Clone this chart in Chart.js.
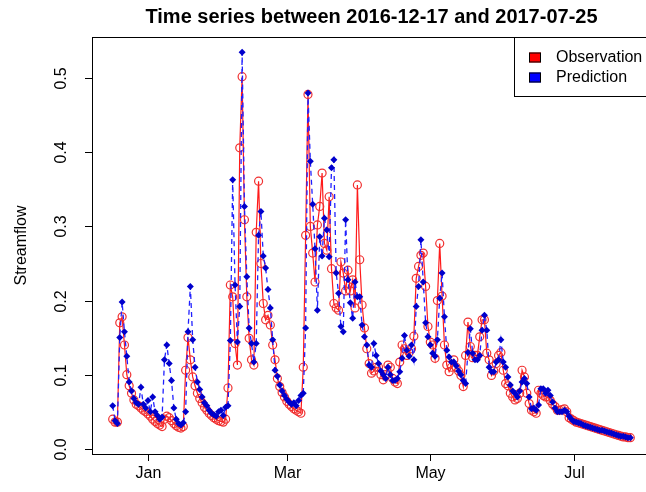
<!DOCTYPE html>
<html>
<head>
<meta charset="utf-8">
<script src="https://cdn.jsdelivr.net/npm/chart.js@4"></script>
<style>
  html, body { margin: 0; padding: 0; background: #fff; overflow: hidden; }
  canvas { display: block; }
</style>
</head>
<body>
<canvas id="myChart" width="660" height="492"></canvas>
<script>
// day 0 = 2016-12-17, one value per day up to 2017-07-25
const titleText = 'Time series between 2016-12-17 and 2017-07-25';
const monthTicks = [15, 74, 135, 196];
const monthLabels = ['Jan', 'Mar', 'May', 'Jul'];
const yTicks = [0, 0.1, 0.2, 0.3, 0.4, 0.5];

const observation = [
  0.040, 0.036, 0.036, 0.170, 0.178, 0.140, 0.100, 0.085, 0.075, 0.066,
  0.060, 0.058, 0.055, 0.052, 0.050, 0.047, 0.044, 0.040, 0.037, 0.034,
  0.032, 0.030, 0.040, 0.044, 0.042, 0.038, 0.034, 0.031, 0.029, 0.028,
  0.030, 0.106, 0.150, 0.120, 0.097, 0.085, 0.075, 0.068, 0.062, 0.056,
  0.052, 0.048, 0.045, 0.042, 0.040, 0.038, 0.037, 0.036, 0.040, 0.082,
  0.221, 0.205, 0.142, 0.113, 0.406, 0.502, 0.309, 0.205, 0.149, 0.120,
  0.113, 0.292, 0.361, 0.250, 0.196, 0.174, 0.180, 0.167, 0.140, 0.120,
  0.095, 0.084, 0.076, 0.070, 0.064, 0.060, 0.057, 0.054, 0.052, 0.050,
  0.048, 0.110, 0.288, 0.478, 0.300, 0.264, 0.225, 0.302, 0.327, 0.372,
  0.277, 0.268, 0.340, 0.243, 0.196, 0.190, 0.187, 0.252, 0.237, 0.213,
  0.241, 0.213, 0.228, 0.190, 0.356, 0.255, 0.194, 0.163, 0.135, 0.115,
  0.102, 0.105, 0.110, 0.110, 0.100, 0.093, 0.100, 0.113, 0.110, 0.095,
  0.090, 0.088, 0.117, 0.140, 0.135, 0.126, 0.130, 0.135, 0.152, 0.230,
  0.246, 0.261, 0.264, 0.219, 0.165, 0.144, 0.140, 0.122, 0.200, 0.277,
  0.206, 0.140, 0.113, 0.104, 0.110, 0.120, 0.110, 0.105, 0.099, 0.084,
  0.126, 0.171, 0.138, 0.123, 0.126, 0.126, 0.151, 0.174, 0.174, 0.129,
  0.120, 0.099, 0.105, 0.115, 0.126, 0.130, 0.106, 0.088, 0.085, 0.075,
  0.070, 0.066, 0.068, 0.075, 0.106, 0.097, 0.075, 0.061, 0.052, 0.050,
  0.048, 0.079, 0.075, 0.072, 0.070, 0.070, 0.065, 0.060, 0.057, 0.052,
  0.052, 0.053, 0.054, 0.050, 0.042, 0.040, 0.038, 0.036, 0.035, 0.034,
  0.033, 0.032, 0.031, 0.030, 0.029, 0.028, 0.027, 0.026, 0.025, 0.024,
  0.023, 0.022, 0.021, 0.020, 0.019, 0.018, 0.017, 0.016, 0.016, 0.015,
  0.015
];

const prediction = [
  0.058, 0.038, 0.034, 0.150, 0.198, 0.158, 0.125, 0.090, 0.078, 0.068,
  0.062, 0.060, 0.083, 0.060, 0.055, 0.065, 0.050, 0.070, 0.050, 0.045,
  0.040, 0.043, 0.120, 0.140, 0.115, 0.092, 0.055, 0.040, 0.034, 0.032,
  0.035, 0.050, 0.158, 0.219, 0.147, 0.110, 0.090, 0.080, 0.070, 0.062,
  0.058, 0.052, 0.048, 0.046, 0.044, 0.050, 0.052, 0.045, 0.056, 0.058,
  0.146, 0.363, 0.221, 0.144, 0.192, 0.535, 0.327, 0.232, 0.163, 0.142,
  0.117, 0.142, 0.288, 0.320, 0.260, 0.244, 0.215, 0.190, 0.147, 0.106,
  0.098, 0.086, 0.078, 0.072, 0.067, 0.063, 0.060, 0.062, 0.058, 0.065,
  0.072, 0.075, 0.163, 0.480, 0.388, 0.330, 0.270, 0.187, 0.286, 0.260,
  0.311, 0.295, 0.259, 0.379, 0.390, 0.237, 0.210, 0.165, 0.158, 0.309,
  0.228, 0.197, 0.176, 0.225, 0.205, 0.205, 0.167, 0.151, 0.140, 0.113,
  0.110, 0.142, 0.126, 0.115, 0.105, 0.100, 0.095, 0.110, 0.100, 0.092,
  0.092, 0.095, 0.104, 0.122, 0.153, 0.133, 0.125, 0.140, 0.120, 0.192,
  0.219, 0.282, 0.225, 0.170, 0.151, 0.140, 0.129, 0.125, 0.147, 0.203,
  0.237, 0.178, 0.133, 0.124, 0.117, 0.117, 0.112, 0.105, 0.100, 0.092,
  0.088, 0.130, 0.162, 0.129, 0.120, 0.120, 0.126, 0.160, 0.180, 0.160,
  0.110, 0.104, 0.104, 0.117, 0.120, 0.147, 0.117, 0.110, 0.097, 0.086,
  0.078, 0.075, 0.070, 0.078, 0.090, 0.095, 0.088, 0.070, 0.054, 0.055,
  0.052, 0.059, 0.081, 0.081, 0.075, 0.079, 0.072, 0.063, 0.055, 0.050,
  0.050, 0.050, 0.052, 0.050, 0.044, 0.040, 0.037, 0.036, 0.035, 0.034,
  0.032, 0.031, 0.030, 0.029, 0.028, 0.027, 0.026, 0.025, 0.025, 0.024,
  0.023, 0.022, 0.021, 0.020, 0.019, 0.018, 0.017, 0.017, 0.016, 0.015,
  0.015
];

const FONT = '"Liberation Sans", Arial, sans-serif';

// R style box, axes, title and legend
const rBase = {
  id: 'rBase',
  afterDraw(chart) {
    const { ctx, chartArea: a, scales: { x, y } } = chart;
    ctx.save();
    ctx.strokeStyle = '#000';
    ctx.fillStyle = '#000';
    ctx.lineWidth = 1;
    ctx.strokeRect(Math.round(a.left) + 0.5, Math.round(a.top) + 0.5, a.right - a.left, a.bottom - a.top);

    ctx.font = '16px ' + FONT;
    ctx.textAlign = 'center';
    ctx.textBaseline = 'middle';
    yTicks.forEach(v => {
      const py = Math.round(y.getPixelForValue(v)) + 0.5;
      ctx.beginPath();
      ctx.moveTo(a.left - 7, py);
      ctx.lineTo(a.left, py);
      ctx.stroke();
      ctx.save();
      ctx.translate(62, py);
      ctx.rotate(-Math.PI / 2);
      ctx.fillText(v.toFixed(1), 0, 0);
      ctx.restore();
    });

    monthTicks.forEach((d, i) => {
      const px = Math.round(x.getPixelForValue(d)) + 0.5;
      ctx.beginPath();
      ctx.moveTo(px, a.bottom);
      ctx.lineTo(px, a.bottom + 7);
      ctx.stroke();
      ctx.fillText(monthLabels[i], px, a.bottom + 20);
    });

    ctx.save();
    ctx.translate(22, (a.top + a.bottom) / 2);
    ctx.rotate(-Math.PI / 2);
    ctx.fillText('Streamflow', 0, 0);
    ctx.restore();

    ctx.font = 'bold 20px ' + FONT;
    ctx.fillText(titleText, (a.left + a.right) / 2, 17);

    // legend, top right inside the box
    const lx = 514.5, ly = Math.round(a.top) + 0.5;
    ctx.fillStyle = '#fff';
    ctx.fillRect(lx, ly, a.right - lx, 59);
    ctx.strokeRect(lx, ly, a.right - lx, 59);
    ctx.font = '16px ' + FONT;
    ctx.textAlign = 'left';
    chart.data.datasets.forEach((ds, i) => {
      const cy = ly + 20 + i * 20;
      ctx.fillStyle = ds.legendColor;
      ctx.fillRect(529, cy - 5, 12, 10);
      ctx.strokeRect(529.5, cy - 4.5, 11, 9);
      ctx.fillStyle = '#000';
      ctx.fillText(ds.label, 556, cy);
    });
    ctx.restore();
  }
};

new Chart(document.getElementById('myChart'), {
  type: 'line',
  data: {
    datasets: [
      {
        label: 'Observation',
        legendColor: '#ff0000',
        data: observation.map((v, i) => ({ x: i, y: v })),
        borderColor: '#ff1a1a',
        borderWidth: 1.2,
        pointStyle: 'circle',
        pointRadius: 4,
        pointBorderWidth: 1.2,
        pointBorderColor: '#f03030',
        pointBackgroundColor: 'rgba(0,0,0,0)',
        tension: 0,
        order: 2
      },
      {
        label: 'Prediction',
        legendColor: '#0000ff',
        data: prediction.map((v, i) => ({ x: i, y: v })),
        borderColor: '#2020ff',
        borderWidth: 1.3,
        borderDash: [5, 4],
        pointStyle: 'rectRot',
        pointRadius: 3.5,
        pointBorderWidth: 0,
        pointBackgroundColor: '#0000cc',
        tension: 0,
        order: 1
      }
    ]
  },
  options: {
    responsive: false,
    animation: false,
    layout: {
      padding: { left: 92, top: 37, right: 9, bottom: 38 }
    },
    scales: {
      x: { type: 'linear', display: false, min: -8.8, max: 228.8 },
      y: { type: 'linear', display: false, min: -0.007, max: 0.5555 }
    },
    plugins: {
      legend: { display: false },
      tooltip: { enabled: false }
    }
  },
  plugins: [rBase]
});
</script>
</body>
</html>
